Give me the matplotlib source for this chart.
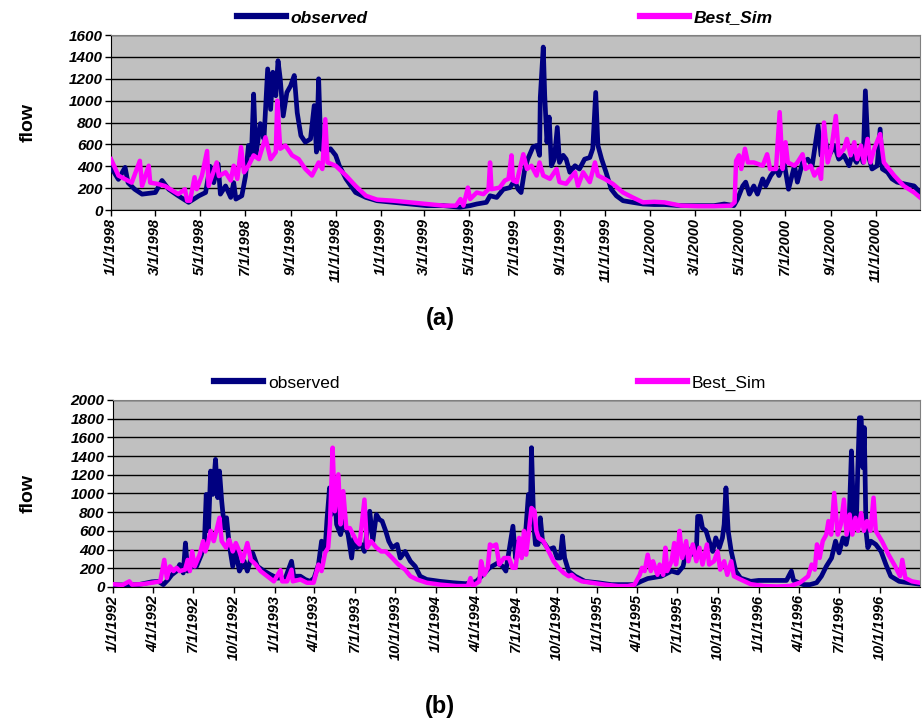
import pandas as pd
import matplotlib
matplotlib.use('Agg')
import matplotlib.pyplot as plt
from matplotlib.lines import Line2D

plt.rcParams['font.family'] = ['Liberation Sans', 'DejaVu Sans']

# ---- panel (a): 1998-2000, days counted from 1/1/1998 ----
start_a = '1998-01-01'
end_a = '2000-12-31'
obs_a_day = [0, 10, 19, 23, 32, 42, 60, 69, 78, 91, 105, 119, 128, 134, 139, 145, 148, 155, 162, 166,
             169, 177, 182, 186, 190, 193, 196, 202, 207, 212, 216, 219, 223, 226, 229, 233, 238, 243,
             248, 252, 257, 263, 270, 275, 278, 281, 284, 290, 297, 304, 309, 318, 331, 345, 360, 382,
             405, 427, 450, 472, 486, 495, 508, 513, 522, 531, 540, 546, 551, 555, 560, 564, 571, 576,
             580, 581, 585, 587, 590, 593, 596, 600, 604, 607, 612, 616, 621, 628, 634, 641, 648, 652,
             656, 659, 664, 670, 677, 684, 693, 706, 720, 735, 749, 771, 794, 816, 830, 843, 848, 855,
             859, 864, 870, 875, 882, 886, 893, 900, 904, 911, 917, 925, 929, 936, 943, 949, 957, 961,
             966, 972, 979, 985, 992, 999, 1003, 1009, 1015, 1018, 1021, 1025, 1030, 1037, 1041, 1044,
             1051, 1057, 1064, 1073, 1087, 1095]
obs_a_flow = [390, 280, 390, 250, 190, 145, 160, 270, 190, 130, 70, 130, 160, 400, 250, 420, 145, 220, 115, 250,
              100, 130, 310, 590, 500, 1060, 500, 790, 650, 1290, 920, 1260, 1045, 1365, 1200, 860, 1075, 1135,
              1230, 890, 680, 620, 650, 955, 530, 1200, 560, 530, 560, 500, 405, 285, 160, 115, 85, 70,
              55, 40, 40, 25, 40, 55, 70, 130, 115, 190, 205, 270, 190, 160, 375, 465, 575, 590,
              500, 1030, 1490, 1045, 620, 850, 405, 465, 755, 435, 500, 465, 345, 405, 375, 465, 480, 560,
              1075, 590, 465, 345, 190, 130, 85, 70, 55, 50, 50, 40, 40, 40, 55, 40, 100, 220,
              255, 145, 220, 145, 285, 220, 315, 375, 315, 435, 190, 405, 255, 435, 465, 405, 770, 500,
              650, 500, 590, 465, 500, 405, 500, 435, 530, 435, 1090, 500, 375, 405, 740, 375,
              345, 285, 255, 240, 220, 160]
sim_a_day = [0, 10, 28, 39, 42, 51, 53, 62, 73, 91, 100, 103, 107, 113, 116, 123, 130, 132, 143, 146,
             155, 162, 166, 171, 176, 180, 186, 193, 200, 209, 216, 223, 225, 229, 236, 245, 254, 263,
             272, 281, 286, 290, 293, 304, 318, 331, 345, 360, 382, 405, 427, 450, 467, 473, 477, 483,
             486, 495, 504, 511, 513, 515, 526, 533, 538, 542, 544, 549, 558, 563, 569, 576, 580, 585,
             594, 603, 607, 616, 628, 632, 639, 648, 655, 659, 668, 679, 693, 706, 720, 735, 749, 771,
             794, 816, 839, 844, 846, 850, 853, 858, 862, 870, 882, 888, 892, 900, 905, 909, 913, 916,
             925, 929, 936, 940, 947, 952, 958, 961, 965, 970, 975, 981, 985, 992, 996, 1001, 1006, 1010,
             1015, 1019, 1024, 1028, 1033, 1041, 1046, 1060, 1073, 1087, 1095]
sim_a_flow = [465, 315, 250, 450, 220, 405, 250, 240, 220, 145, 190, 85, 85, 300, 190, 315, 540, 220, 435, 310,
              345, 270, 405, 285, 575, 345, 405, 500, 465, 665, 465, 530, 1000, 560, 590, 500, 465, 375,
              315, 435, 375, 830, 435, 405, 315, 220, 130, 95, 85, 70, 55, 40, 40, 100, 40, 205,
              100, 160, 145, 190, 435, 190, 205, 270, 285, 500, 270, 255, 510, 375, 405, 315, 435, 315,
              285, 375, 255, 240, 345, 220, 345, 255, 435, 315, 285, 240, 160, 115, 70, 75, 70, 40,
              35, 35, 40, 70, 450, 500, 375, 560, 435, 435, 405, 510, 375, 375, 895, 375, 620, 435,
              405, 435, 510, 375, 405, 315, 375, 285, 800, 435, 560, 860, 500, 560, 650, 500, 620, 465,
              590, 435, 650, 435, 560, 695, 435, 315, 220, 160, 115]
ticks_a = ['1/1/1998', '3/1/1998', '5/1/1998', '7/1/1998', '9/1/1998', '11/1/1998',
           '1/1/1999', '3/1/1999', '5/1/1999', '7/1/1999', '9/1/1999', '11/1/1999',
           '1/1/2000', '3/1/2000', '5/1/2000', '7/1/2000', '9/1/2000', '11/1/2000']

# ---- panel (b): 1992-1996, days counted from 1/1/1992 ----
start_b = '1992-01-01'
end_b = '1996-12-31'
obs_b_day = [0, 28, 58, 88, 103, 114, 125, 133, 144, 151, 159, 164, 169, 178, 189, 200, 207, 211, 216, 221,
             226, 232, 237, 241, 246, 252, 257, 263, 271, 278, 286, 297, 304, 316, 327, 342, 357, 372,
             390, 404, 409, 424, 435, 446, 455, 465, 472, 480, 484, 490, 494, 500, 506, 515, 522, 532,
             540, 545, 552, 562, 569, 581, 588, 596, 603, 609, 617, 624, 632, 643, 650, 661, 673, 684,
             695, 710, 740, 770, 799, 822, 837, 852, 870, 882, 889, 896, 905, 911, 918, 926, 934, 940,
             944, 947, 952, 956, 962, 967, 972, 978, 986, 997, 1005, 1012, 1017, 1022, 1031, 1046, 1068,
             1098, 1128, 1158, 1180, 1195, 1210, 1222, 1241, 1264, 1278, 1290, 1299, 1308, 1320, 1323,
             1329, 1334, 1342, 1349, 1357, 1364, 1372, 1379, 1383, 1387, 1392, 1399, 1409, 1420, 1443,
             1461, 1487, 1524, 1535, 1540, 1562, 1577, 1592, 1603, 1614, 1626, 1635, 1643, 1652, 1659,
             1665, 1671, 1676, 1682, 1685, 1689, 1693, 1697, 1700, 1704, 1708, 1715, 1726, 1738, 1749,
             1760, 1779, 1801, 1826]
obs_b_flow = [25, 20, 25, 55, 60, 25, 80, 130, 170, 240, 150, 470, 170, 220, 220, 345, 490, 990, 600, 1240,
              990, 1365, 955, 1240, 920, 630, 740, 455, 220, 380, 170, 275, 170, 365, 220, 170, 130, 95,
              95, 275, 115, 115, 80, 60, 95, 240, 490, 400, 705, 1060, 775, 1095, 670, 560, 705, 560,
              310, 525, 420, 455, 380, 810, 490, 775, 720, 705, 600, 490, 420, 455, 310, 380, 275, 220,
              115, 80, 60, 45, 35, 60, 130, 205, 255, 220, 170, 380, 650, 310, 490, 420, 600, 990,
              670, 1490, 670, 455, 455, 740, 490, 455, 400, 420, 310, 310, 545, 310, 170, 115, 60,
              45, 25, 25, 25, 60, 90, 100, 115, 170, 150, 220, 420, 345, 380, 755,
              755, 630, 600, 490, 380, 525, 420, 525, 670, 1060, 600, 380, 170, 95, 60,
              70, 70, 70, 170, 70, 25, 25, 45, 115, 220, 310, 490, 365, 525, 455,
              600, 1455, 740, 670, 1205, 1810, 1810, 1275, 1705, 600, 420, 490, 455, 380, 240,
              115, 60, 45, 30]
sim_b_day = [0, 21, 37, 43, 66, 88, 107, 116, 122, 129, 137, 144, 151, 163, 169, 174, 179, 185, 196, 204,
             209, 215, 221, 228, 234, 241, 246, 256, 263, 271, 278, 286, 293, 304, 312, 323, 334, 349,
             364, 379, 383, 394, 404, 407, 424, 439, 454, 465, 472, 480, 487, 491, 497, 502, 510, 515,
             521, 528, 536, 551, 558, 569, 575, 584, 596, 607, 617, 632, 646, 661, 673, 688, 710, 740,
             777, 803, 809, 814, 829, 833, 840, 848, 853, 859, 867, 874, 885, 896, 904, 911, 919, 925,
             930, 935, 941, 947, 954, 958, 963, 974, 986, 997, 1008, 1020, 1031, 1038, 1046, 1061, 1083,
             1113, 1143, 1165, 1180, 1192, 1197, 1203, 1210, 1217, 1222, 1232, 1237, 1245, 1250, 1254,
             1264, 1270, 1274, 1278, 1282, 1288, 1297, 1302, 1312, 1320, 1327, 1334, 1344, 1349, 1360,
             1368, 1374, 1383, 1390, 1399, 1405, 1420, 1443, 1473, 1502, 1532, 1554, 1573, 1581, 1588,
             1593, 1599, 1606, 1614, 1619, 1625, 1632, 1640, 1647, 1654, 1660, 1667, 1673, 1680, 1686,
             1693, 1699, 1706, 1714, 1721, 1726, 1740, 1755, 1770, 1781, 1786, 1793, 1808, 1826]
sim_b_flow = [30, 20, 60, 25, 30, 45, 60, 290, 95, 220, 170, 205, 170, 185, 290, 170, 380, 220, 345, 490,
              380, 470, 600, 490, 600, 740, 490, 420, 505, 380, 470, 380, 275, 470, 290, 240, 170, 115,
              60, 180, 60, 60, 185, 60, 80, 45, 45, 240, 170, 365, 420, 670, 1490, 810, 1205, 670,
              1025, 630, 630, 490, 455, 935, 420, 490, 420, 380, 380, 310, 240, 185, 115, 80, 45, 25,
              10, 10, 95, 10, 60, 275, 130, 205, 455, 435, 455, 240, 310, 310, 205, 205, 525, 310,
              600, 345, 600, 845, 810, 600, 525, 490, 380, 275, 205, 150, 115, 130, 95, 60, 45,
              25, 10, 10, 25, 130, 205, 170, 345, 170, 275, 130, 240, 130, 420, 170,
              275, 470, 240, 365, 600, 310, 490, 275, 455, 275, 420, 240, 455, 240, 275,
              380, 185, 275, 130, 275, 115, 80, 30, 10, 5, 10, 45, 115, 240, 185,
              455, 310, 490, 560, 705, 560, 1005, 560, 670, 935, 560, 775, 560, 740, 600,
              790, 600, 705, 600, 955, 600, 490, 345, 220, 115, 290, 95, 60, 45]
ticks_b = ['1/1/1992', '4/1/1992', '7/1/1992', '10/1/1992', '1/1/1993', '4/1/1993', '7/1/1993',
           '10/1/1993', '1/1/1994', '4/1/1994', '7/1/1994', '10/1/1994', '1/1/1995', '4/1/1995',
           '7/1/1995', '10/1/1995', '1/1/1996', '4/1/1996', '7/1/1996', '10/1/1996']

navy = '#000080'
magenta = '#FF00FF'


def draw_panel(ax, start, end, obs_day, obs_flow, sim_day, sim_flow, ticks, ymax):
    t0 = pd.Timestamp(start)
    obs_x = t0 + pd.to_timedelta(obs_day, unit='D')
    sim_x = t0 + pd.to_timedelta(sim_day, unit='D')
    ax.set_facecolor('#C0C0C0')
    ax.plot(obs_x, obs_flow, color=navy, lw=3.4, solid_joinstyle='round', zorder=3)
    ax.plot(sim_x, sim_flow, color=magenta, lw=3.2, solid_joinstyle='round', zorder=4)
    ax.set_xlim(t0, pd.Timestamp(end))
    ax.set_ylim(0, ymax)
    ax.set_yticks(range(0, ymax + 1, 200))
    ax.yaxis.grid(True, color='black', lw=1.0)
    ax.set_axisbelow(True)
    tick_dates = pd.to_datetime(ticks, format='%m/%d/%Y')
    ax.set_xticks(tick_dates)
    ax.set_xticklabels(ticks, rotation=90, fontsize=10.5, fontweight='bold', fontstyle='italic')
    for lab in ax.get_yticklabels():
        lab.set_fontsize(11)
        lab.set_fontweight('bold')
        lab.set_fontstyle('italic')
    ax.tick_params(direction='out', length=4, width=1, color='black', pad=2)
    for s in ['top', 'right']:
        ax.spines[s].set_color('#808080')
    for s in ['left', 'bottom']:
        ax.spines[s].set_color('black')
    ax.set_ylabel('flow', fontsize=14, fontweight='bold')


fig = plt.figure(figsize=(9.23, 7.18), dpi=100)
ax1 = fig.add_axes([0.1203, 0.7075, 0.8765, 0.2437])
ax2 = fig.add_axes([0.1224, 0.1825, 0.8743, 0.2604])

draw_panel(ax1, start_a, end_a, obs_a_day, obs_a_flow, sim_a_day, sim_a_flow, ticks_a, 1600)
draw_panel(ax2, start_b, end_b, obs_b_day, obs_b_flow, sim_b_day, sim_b_flow, ticks_b, 2000)
ax1.yaxis.set_label_coords(-0.092, 0.5)
ax2.yaxis.set_label_coords(-0.094, 0.5)

# legends, laid out like the spreadsheet ones
leg_a = {'weight': 'bold', 'style': 'italic', 'size': 12.5}
leg_b = {'size': 12.5}
for name, col, x, y, prop in [('observed', navy, 0.2568, 0.975, leg_a),
                              ('Best_Sim', magenta, 0.6934, 0.975, leg_a),
                              ('observed', navy, 0.2319, 0.4666, leg_b),
                              ('Best_Sim', magenta, 0.6912, 0.4666, leg_b)]:
    h = Line2D([], [], color=col, lw=4.5)
    fig.legend(handles=[h], labels=[name], loc='center left', bbox_to_anchor=(x, y),
               frameon=False, borderpad=0, borderaxespad=0, handlelength=2.8,
               handletextpad=0.3, prop=prop)

fig.text(0.4767, 0.557, '(a)', fontsize=17, fontweight='bold', ha='center', va='center')
fig.text(0.4767, 0.0167, '(b)', fontsize=17, fontweight='bold', ha='center', va='center')

fig.savefig('out.png', dpi=100)
